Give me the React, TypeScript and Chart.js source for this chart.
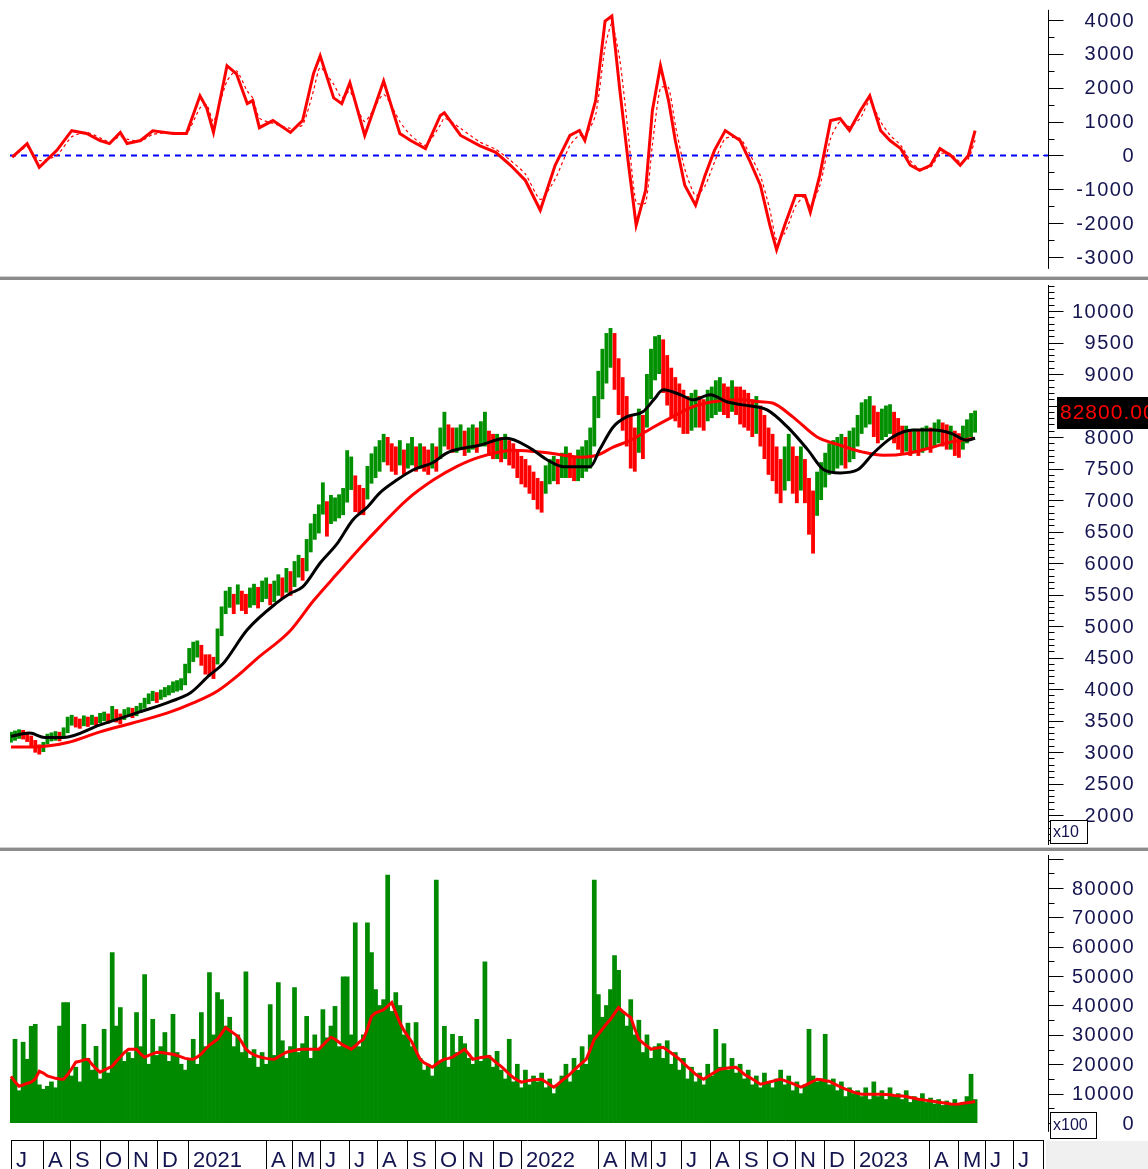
import React, { useEffect, useRef } from 'react';
import { Chart, registerables } from 'chart.js';
Chart.register(...registerables);

// ---------- x axis (trading-day index) ----------
const X_MIN = -0.7;
const X_MAX = 768;
const STEP = 3; // trading days per sampled bar
const MONTH_LABELS = ['J','A','S','O','N','D','2021','A','M','J','J','A','S','O','N','D','2022','A','M','J','J','A','S','O','N','D','2023','A','M','J','J'];
const MONTH_START_DAY = [0,24,44,66,87,108,131,189,208,229,250,271,293,314,335,357,378,435,455,474,496,518,539,560,581,602,624,680,701,721,742];
const AXIS_END_DAY = 764;

// ---------- price panel (values in x10 units) ----------
const PRICE_LOW = [
  3150,3180,3210,3200,3160,3070,2990,2960,3000,3120,
  3170,3180,3170,3220,3300,3420,3390,3370,3410,3400,
  3430,3400,3460,3490,3450,3510,3470,3440,3510,3560,
  3540,3570,3620,3690,3760,3810,3780,3830,3870,3900,
  3940,3960,3980,4060,4250,4430,4500,4370,4230,4200,
  4160,4390,4840,5190,5290,5190,5340,5240,5190,5290,
  5330,5280,5380,5430,5330,5380,5480,5430,5530,5480,
  5620,5770,5720,5870,6170,6370,6470,6770,6420,6620,
  6660,6710,6760,6960,7160,6810,6760,6760,7010,7260,
  7350,7450,7600,7550,7450,7400,7550,7400,7500,7550,
  7450,7500,7450,7400,7500,7450,7650,7850,7800,7750,
  7750,7800,7700,7750,7800,7750,7850,7850,7700,7650,
  7650,7600,7650,7550,7500,7350,7250,7200,7100,7000,
  6850,6800,7100,7250,7300,7250,7350,7350,7350,7300,
  7300,7350,7450,7500,7850,8300,8600,8850,9100,8750,
  8350,8100,7850,7500,7450,7750,7650,8150,8600,8900,
  9000,8700,8500,8300,8250,8150,8050,8050,8100,8150,
  8150,8100,8250,8300,8350,8400,8350,8300,8400,8350,
  8200,8150,8100,8000,8050,7850,7650,7400,7300,7100,
  6950,7150,7300,7100,6950,7150,6950,6450,6150,6750,
  7000,7200,7400,7450,7500,7550,7500,7600,7650,7850,
  8050,8150,8200,8000,7900,7950,8000,8050,7900,7800,
  7720,7770,7700,7740,7700,7750,7800,7750,7850,7900,
  7850,7800,7800,7700,7670,7800,7900,8000,8070
];
const PRICE_HIGH = [
  3320,3340,3360,3350,3320,3260,3190,3120,3160,3290,
  3310,3330,3320,3390,3560,3590,3560,3530,3580,3560,
  3590,3560,3620,3640,3610,3730,3680,3610,3680,3710,
  3700,3730,3780,3860,3930,3970,3950,3990,4030,4060,
  4120,4140,4170,4400,4650,4750,4770,4700,4550,4550,
  4510,4960,5310,5560,5620,5510,5660,5560,5510,5610,
  5670,5620,5720,5770,5670,5720,5820,5770,5920,5870,
  6030,6130,6080,6380,6630,6780,6930,7280,6980,7080,
  7040,7090,7190,7790,7690,7390,7240,7190,7540,7740,
  7850,7950,8050,8000,7900,7850,7950,7800,7900,8000,
  7850,7900,7850,7800,7900,7850,8150,8400,8200,8150,
  8150,8200,8100,8150,8200,8150,8250,8400,8100,8050,
  8050,8000,8050,7950,7900,7800,7700,7650,7550,7450,
  7350,7300,7550,7650,7700,7650,7750,7850,7750,7700,
  7800,7850,7950,8150,8650,9050,9400,9650,9730,9650,
  9250,8950,8650,8350,8150,8450,8350,9000,9400,9600,
  9620,9550,9300,9100,8950,8850,8750,8650,8700,8750,
  8650,8600,8750,8800,8900,8950,8850,8800,8900,8800,
  8800,8750,8700,8600,8650,8500,8350,8150,8050,7850,
  7650,7850,8050,7850,7700,7850,7650,7350,7150,7450,
  7600,7750,7900,7950,8000,8050,8000,8100,8150,8350,
  8550,8600,8650,8500,8400,8450,8500,8520,8400,8300,
  8180,8180,8100,8130,8100,8150,8180,8150,8230,8280,
  8230,8200,8180,8100,8060,8180,8280,8380,8420
];
// U = up bar (green), D = down bar (red)
const PRICE_DIR =
  'UUUDDDDDUU' + 'UUDUUUDDUD' + 'UDUUDUDDUU' + 'DUUUUUDUUU' + 'UUUUUUUDDD' +
  'DUUUUDUDDU' + 'UDUUDUUDUD' + 'UUDUUUUUDU' + 'UUUUUDDDUU' + 'UUUDDDUDUU' +
  'DUDDUDUUDD' + 'UUDUUDUUDD' + 'UDUDDDDDDD' + 'DDUUUDUUDD' + 'UUUUUUUUUD' +
  'DDDDDUDUUU' + 'UDDDDDDDUU' + 'DDUUUUDDUD' + 'DDDDUDDDDD' + 'DUUDDUDDDU' +
  'UUUUUUDUUU' + 'UUUDDUUUDD' + 'DUDUDUUDUU' + 'DDUDDUUUU';
const LAST_PRICE = 8280;
const LAST_PRICE_LABEL = '82800.00';

const MA_FAST_DAY = [0,14,25,39,66,96,118,133,147,157,175,197,207,216,229,242,253,264,273,286,298,313,323,347,367,384,397,409,429,436,446,456,468,476,483,496,505,518,530,542,560,575,590,602,614,627,639,653,668,683,696,708,714];
const MA_FAST = [3250,3300,3230,3230,3430,3640,3800,3940,4220,4400,4940,5370,5520,5620,6000,6320,6680,6890,7110,7320,7480,7600,7750,7870,7980,7830,7640,7530,7530,7800,8160,8320,8400,8590,8750,8670,8590,8670,8560,8510,8430,8160,7800,7480,7430,7480,7750,8000,8110,8110,8060,7950,7980];
const MA_SLOW_DAY = [0,16,42,66,90,116,135,153,170,182,207,224,242,259,273,293,313,330,347,372,397,422,434,446,459,476,490,505,520,538,555,564,579,597,614,631,646,664,681,696,713];
const MA_SLOW = [3080,3080,3150,3320,3460,3620,3780,3970,4250,4480,4930,5400,5840,6250,6570,7000,7320,7530,7680,7790,7750,7680,7710,7840,7950,8160,8320,8480,8560,8590,8560,8540,8320,8000,7870,7760,7710,7740,7830,7920,7980];

const PRICE_MAJOR = [2000,2500,3000,3500,4000,4500,5000,5500,6000,6500,7000,7500,8000,8500,9000,9500,10000];
const PRICE_LABELS = ['2000','2500','3000','3500','4000','4500','5000','5500','6000','6500','7000','7500','8000','8500','9000','9500','10000'];
const PRICE_MINOR = [1600,1700,1800,1900,2100,2200,2300,2400,2600,2700,2800,2900,3100,3200,3300,3400,3600,3700,3800,3900,4100,4200,4300,4400,4600,4700,4800,4900,5100,5200,5300,5400,5600,5700,5800,5900,6100,6200,6300,6400,6600,6700,6800,6900,7100,7200,7300,7400,7600,7700,7800,7900,8100,8200,8300,8400,8600,8700,8800,8900,9100,9200,9300,9400,9600,9700,9800,9900,10100,10200,10300,10400];

// ---------- oscillator panel ----------
const OSC_DAY = [1,12,21,34,45,56,66,73,81,86,96,105,120,130,140,145,150,160,167,175,179,184,194,207,216,224,229,239,245,251,262,276,288,296,307,318,321,333,347,359,370,381,392,403,414,421,425,433,440,445,451,457,463,470,475,481,487,492,499,507,514,521,529,540,547,555,562,567,573,581,588,592,599,607,614,621,629,636,644,651,659,666,673,681,688,696,703,709,714];
const OSC_MAIN = [-50,350,-350,150,730,650,440,350,680,350,440,730,650,650,1760,1400,680,2650,2410,1530,1620,820,1030,680,1030,2410,2940,1700,1530,2150,590,2200,650,440,200,1180,1260,590,290,90,-290,-740,-1620,-290,590,735,440,1620,3970,4120,1900,-150,-2060,-1030,1320,2650,1620,440,-880,-1470,-590,150,735,440,-150,-880,-2060,-2790,-2060,-1180,-1180,-1680,-590,1030,1090,735,1320,1760,735,440,200,-290,-440,-290,200,0,-290,0,735];
const OSC_SIGNAL = [-50,250,-150,0,550,680,520,400,560,480,420,620,680,640,1400,1500,1000,2200,2500,1900,1700,1100,950,800,900,1900,2600,2100,1700,1900,1000,1800,1000,600,300,900,1100,800,400,180,-150,-550,-1300,-700,300,600,550,1200,3200,3900,2800,700,-1400,-1400,300,2000,2000,900,-400,-1200,-900,-200,500,500,50,-600,-1600,-2500,-2300,-1500,-1200,-1500,-900,500,1000,850,1100,1600,1000,600,300,-150,-400,-350,50,50,-200,-100,450];
const OSC_MAJOR = [-3000,-2000,-1000,0,1000,2000,3000,4000];
const OSC_LABELS = ['-3000','-2000','-1000','0','1000','2000','3000','4000'];
const OSC_MINOR = [-2500,-1500,-500,500,1500,2500,3500];

// ---------- volume panel (x100 units) ----------
const VOLUME = [
  15000,28500,11000,27500,21700,32900,33600,13000,11500,12500,
  14000,12000,33000,41000,41000,16000,19000,14000,33600,22000,
  18000,26100,15000,31900,17000,58000,33000,39300,21000,24000,
  22000,37600,26000,50500,20000,35300,23000,26000,30800,21000,
  37000,24000,20000,18000,22000,28500,20000,37600,26000,51200,
  30000,44400,42000,33000,36000,26000,30000,24000,51500,22000,
  25000,19000,24000,20000,40300,23000,47800,28000,22000,26000,
  46100,24000,27000,36300,22000,30000,25000,38600,29000,33000,
  39700,26000,49800,49800,30000,68100,26000,30000,68100,58000,
  45400,40000,42000,84400,38000,44400,40000,30000,34000,26000,
  34200,22000,18000,20000,16000,82700,21000,32900,19000,30200,
  24000,29500,27000,22000,20000,35300,21000,54900,23000,19000,
  24400,18000,15000,28500,14000,20000,12000,18000,13000,16000,
  14000,17000,12000,15000,10000,13000,16000,20000,14000,22000,
  18000,26000,20000,30000,82700,43700,36000,40000,45400,57000,
  52000,38000,33000,42000,30000,35000,24000,30000,22000,26000,
  27000,22000,28000,20000,24000,18000,22000,15000,19000,14000,
  17000,13000,20000,16000,31900,19000,27000,18000,22000,17000,
  20000,15000,18000,13000,16000,12000,17000,14000,12000,15000,
  18000,13000,16000,11000,14000,10000,13000,31900,16000,14000,
  15000,30200,13000,15000,11000,14000,9000,12000,10000,11000,
  9000,12000,8000,14000,9000,11000,8000,12000,9000,10000,
  8000,11000,7000,9000,8000,10000,7000,8500,6500,8000,
  6000,7500,6000,8000,6500,7000,9000,16600,8000
];
const VOLUME_MA = [
  15900,14000,12500,13000,13500,13900,15000,17600,17000,16000,
  15600,15200,15000,14900,16500,18500,20700,21000,21500,21700,
  20000,18500,17300,18000,18700,19300,21000,22500,24000,25100,
  25100,25100,23500,22400,23000,23500,24100,24000,23800,23600,
  23400,23000,22500,22000,21800,21700,22500,23500,25100,26500,
  27500,28500,30500,32500,31500,30500,29500,27500,25100,24000,
  23200,22700,22300,22000,21800,21700,22500,23300,24100,24400,
  24700,25000,25100,25100,25100,25100,25100,26500,28000,29200,
  28500,27500,26500,25800,25100,26200,27500,28500,32000,36300,
  37500,38000,38600,39800,41000,37500,34200,31500,29500,27500,
  24500,21700,20500,19800,19000,20000,21000,21700,22000,22400,
  23300,24200,25100,23500,21700,22000,22300,22500,22700,21500,
  20300,19300,18000,16600,15500,14600,13900,14200,14500,14700,
  14800,14900,14000,13000,12200,13200,14400,15500,16600,18000,
  19300,20500,21700,25000,28500,30200,32000,33700,35300,37300,
  39300,38000,36900,35900,32000,28500,27300,26200,25100,25400,
  25600,25800,24800,23800,22800,21700,20400,19100,17900,16600,
  15700,14900,15800,16700,17500,18300,18500,18700,18900,19000,
  17800,16600,15800,15000,14100,13200,13500,13900,14200,14600,
  14900,14400,13900,13400,12800,12200,12800,13500,14200,14900,
  14700,14400,14200,13500,12800,12100,11500,11000,10500,10100,
  9800,9800,9800,9800,9800,9800,9700,9600,9400,9300,
  9200,9000,8700,8400,8100,7900,7700,7500,7300,7100,
  6900,6700,6500,6400,6500,6700,6900,7100,7300
];
const VOL_MAJOR = [0,10000,20000,30000,40000,50000,60000,70000,80000,90000];
const VOL_LABELS = ['0','10000','20000','30000','40000','50000','60000','70000','80000',''];
const VOL_MINOR = [5000,15000,25000,35000,45000,55000,65000,75000,85000];

// ---------- styling ----------
const FONT = '"Liberation Sans", Arial, sans-serif';
const LABEL_COLOR = '#141450';
const GREEN = '#009000';
const VOL_GREEN = '#008a00';
const RED = '#ff0000';

function setSpacing(ctx: any, px: number) {
  if ('letterSpacing' in ctx) ctx.letterSpacing = `${px}px`;
}

function rightAxis(major: number[], labels: string[], minor: number[], from: number, to: number, extra?: (ctx: any, chart: any) => void) {
  return {
    id: 'rightAxis',
    afterDraw(chart: any) {
      const { ctx, chartArea } = chart;
      const ys = chart.scales.y;
      const ax = Math.round(chartArea.right) + 0.5;
      ctx.save();
      ctx.strokeStyle = '#000';
      ctx.lineWidth = 1;
      ctx.beginPath();
      ctx.moveTo(ax, ys.getPixelForValue(from));
      ctx.lineTo(ax, ys.getPixelForValue(to));
      minor.forEach((v) => {
        const py = Math.round(ys.getPixelForValue(v)) + 0.5;
        ctx.moveTo(ax, py);
        ctx.lineTo(ax + 6, py);
      });
      major.forEach((v) => {
        const py = Math.round(ys.getPixelForValue(v)) + 0.5;
        ctx.moveTo(ax, py);
        ctx.lineTo(ax + 15, py);
      });
      ctx.stroke();
      ctx.fillStyle = LABEL_COLOR;
      ctx.font = `20px ${FONT}`;
      setSpacing(ctx, 1.5);
      ctx.textAlign = 'right';
      ctx.textBaseline = 'middle';
      major.forEach((v, k) => {
        if (labels[k]) ctx.fillText(labels[k], 1135, ys.getPixelForValue(v) + 1);
      });
      setSpacing(ctx, 0);
      if (extra) extra(ctx, chart);
      ctx.restore();
    },
  };
}

function baseOptions(padTop: number, padBottom: number, yMin: number, yMax: number): any {
  return {
    responsive: false,
    maintainAspectRatio: false,
    animation: false,
    devicePixelRatio: 1,
    events: [],
    layout: { padding: { left: 10, right: 100, top: padTop, bottom: padBottom } },
    plugins: { legend: { display: false }, tooltip: { enabled: false } },
    scales: {
      x: { type: 'linear', min: X_MIN, max: X_MAX, display: false, offset: false },
      y: { type: 'linear', min: yMin, max: yMax, display: false },
    },
  };
}

function xy(days: number[], vals: number[]) {
  return vals.map((v, k) => ({ x: days[k], y: v }));
}

function oscConfig(): any {
  return {
    type: 'line',
    data: {
      datasets: [
        { data: xy(OSC_DAY, OSC_MAIN), borderColor: RED, borderWidth: 3, pointRadius: 0, tension: 0, order: 0 },
        { data: xy(OSC_DAY, OSC_SIGNAL), borderColor: RED, borderWidth: 1.2, borderDash: [3, 3], pointRadius: 0, tension: 0.2, order: 1 },
        { data: [{ x: X_MIN, y: 0 }, { x: X_MAX, y: 0 }], borderColor: '#0000ff', borderWidth: 2, borderDash: [6, 5], pointRadius: 0, order: 2 },
      ],
    },
    options: baseOptions(5, 5, -3443, 4443),
    plugins: [rightAxis(OSC_MAJOR, OSC_LABELS, OSC_MINOR, 4300, -3350, (ctx: any, chart: any) => {
      const ys = chart.scales.y;
      const ax = Math.round(chart.chartArea.right);
      const py = Math.round(ys.getPixelForValue(0)) + 0.5;
      ctx.strokeStyle = '#0000ff';
      ctx.lineWidth = 1;
      ctx.beginPath();
      ctx.moveTo(ax - 5, py);
      ctx.lineTo(ax, py);
      ctx.stroke();
    })],
  };
}

function priceConfig(): any {
  const bars = PRICE_LOW.map((lo, i) => ({ x: i * STEP, y: [lo, PRICE_HIGH[i]] }));
  const colors = PRICE_LOW.map((_, i) => (PRICE_DIR[i] === 'U' ? GREEN : RED));
  return {
    type: 'bar',
    data: {
      datasets: [
        { type: 'line', data: xy(MA_FAST_DAY, MA_FAST), borderColor: '#000', borderWidth: 3, pointRadius: 0, cubicInterpolationMode: 'monotone', order: 0 },
        { type: 'line', data: xy(MA_SLOW_DAY, MA_SLOW), borderColor: RED, borderWidth: 3, pointRadius: 0, cubicInterpolationMode: 'monotone', order: 1 },
        { type: 'bar', data: bars, backgroundColor: colors, borderWidth: 0, barPercentage: 0.95, categoryPercentage: 1, order: 2 },
      ],
    },
    options: baseOptions(5, 3, 1524, 10413),
    plugins: [rightAxis(PRICE_MAJOR, PRICE_LABELS, PRICE_MINOR, 10413, 1524, (ctx: any, chart: any) => {
      const ys = chart.scales.y;
      // last value box
      const lastY = ys.getPixelForValue(LAST_PRICE);
      const by = Math.round(lastY) - 22;
      ctx.fillStyle = '#000';
      ctx.fillRect(1057, by, 91, 32);
      ctx.fillStyle = RED;
      ctx.font = `21px ${FONT}`;
      setSpacing(ctx, 1);
      ctx.textAlign = 'left';
      ctx.textBaseline = 'middle';
      ctx.fillText(LAST_PRICE_LABEL, 1060, by + 16);
      setSpacing(ctx, 0);
      // x10 box
      ctx.fillStyle = '#fff';
      ctx.fillRect(1050, 540, 37, 23);
      ctx.strokeStyle = '#000';
      ctx.lineWidth = 1;
      ctx.strokeRect(1050.5, 540.5, 37, 23);
      ctx.fillStyle = LABEL_COLOR;
      ctx.font = `16px ${FONT}`;
      ctx.fillText('x10', 1053, 553);
    })],
  };
}

function volumeConfig(): any {
  const bars = VOLUME.map((v, i) => ({ x: i * STEP, y: v }));
  const ma = VOLUME_MA.map((v, i) => ({ x: i * STEP, y: v }));
  return {
    type: 'bar',
    data: {
      datasets: [
        { type: 'line', data: ma, borderColor: RED, borderWidth: 3, pointRadius: 0, tension: 0, order: 0 },
        { type: 'bar', data: bars, backgroundColor: VOL_GREEN, borderWidth: 0, barPercentage: 1, categoryPercentage: 1, order: 1 },
      ],
    },
    options: baseOptions(4, 46, 0, 91230),
    plugins: [rightAxis(VOL_MAJOR, VOL_LABELS, VOL_MINOR, 91230, -3000, (ctx: any, chart: any) => {
      const xs = chart.scales.x;
      const stripTop = 289;
      // grey area right of the month strip
      ctx.fillStyle = '#f0f0f0';
      ctx.fillRect(1046, stripTop + 1, 102, 30);
      // x100 box
      ctx.fillStyle = '#fff';
      ctx.fillRect(1050, 261, 46, 26);
      ctx.strokeStyle = '#000';
      ctx.lineWidth = 1;
      ctx.strokeRect(1050.5, 261.5, 46, 26);
      ctx.fillStyle = LABEL_COLOR;
      ctx.font = `16px ${FONT}`;
      ctx.textAlign = 'left';
      ctx.textBaseline = 'middle';
      ctx.fillText('x100', 1053, 275);
      // month strip
      const endPx = Math.round(xs.getPixelForValue(AXIS_END_DAY)) + 0.5;
      const startPx = Math.round(xs.getPixelForValue(MONTH_START_DAY[0])) + 0.5;
      ctx.beginPath();
      ctx.moveTo(startPx, stripTop + 0.5);
      ctx.lineTo(endPx, stripTop + 0.5);
      MONTH_START_DAY.forEach((d) => {
        const px = Math.round(xs.getPixelForValue(d)) + 0.5;
        ctx.moveTo(px, stripTop);
        ctx.lineTo(px, 318);
      });
      ctx.moveTo(endPx, stripTop);
      ctx.lineTo(endPx, 318);
      ctx.stroke();
      ctx.font = `22px ${FONT}`;
      ctx.textBaseline = 'alphabetic';
      ctx.fillStyle = LABEL_COLOR;
      MONTH_LABELS.forEach((t, k) => {
        const px = Math.round(xs.getPixelForValue(MONTH_START_DAY[k]));
        ctx.fillText(t, px + 5, 316);
      });
    })],
  };
}

function ChartCanvas({ top, height, make }: { top: number; height: number; make: () => any }) {
  const ref = useRef<HTMLCanvasElement | null>(null);
  useEffect(() => {
    if (!ref.current) return;
    const chart = new Chart(ref.current, make());
    return () => chart.destroy();
  }, []);
  return (
    <canvas
      ref={ref}
      width={1148}
      height={height}
      style={{ position: 'absolute', left: 0, top, width: 1148, height, display: 'block' }}
    />
  );
}

export default function App() {
  return (
    <div style={{ position: 'fixed', left: 0, top: 0, width: 1148, height: 1169, background: '#fff', overflow: 'hidden' }}>
      <ChartCanvas top={0} height={277} make={oscConfig} />
      <div style={{ position: 'absolute', left: 0, top: 276, width: 1148, height: 1, background: '#d0d0d0' }} />
      <div style={{ position: 'absolute', left: 0, top: 277, width: 1148, height: 3, background: '#8c8c8c' }} />
      <ChartCanvas top={280} height={568} make={priceConfig} />
      <div style={{ position: 'absolute', left: 0, top: 847, width: 1148, height: 1, background: '#d0d0d0' }} />
      <div style={{ position: 'absolute', left: 0, top: 848, width: 1148, height: 3, background: '#8c8c8c' }} />
      <ChartCanvas top={851} height={318} make={volumeConfig} />
    </div>
  );
}
